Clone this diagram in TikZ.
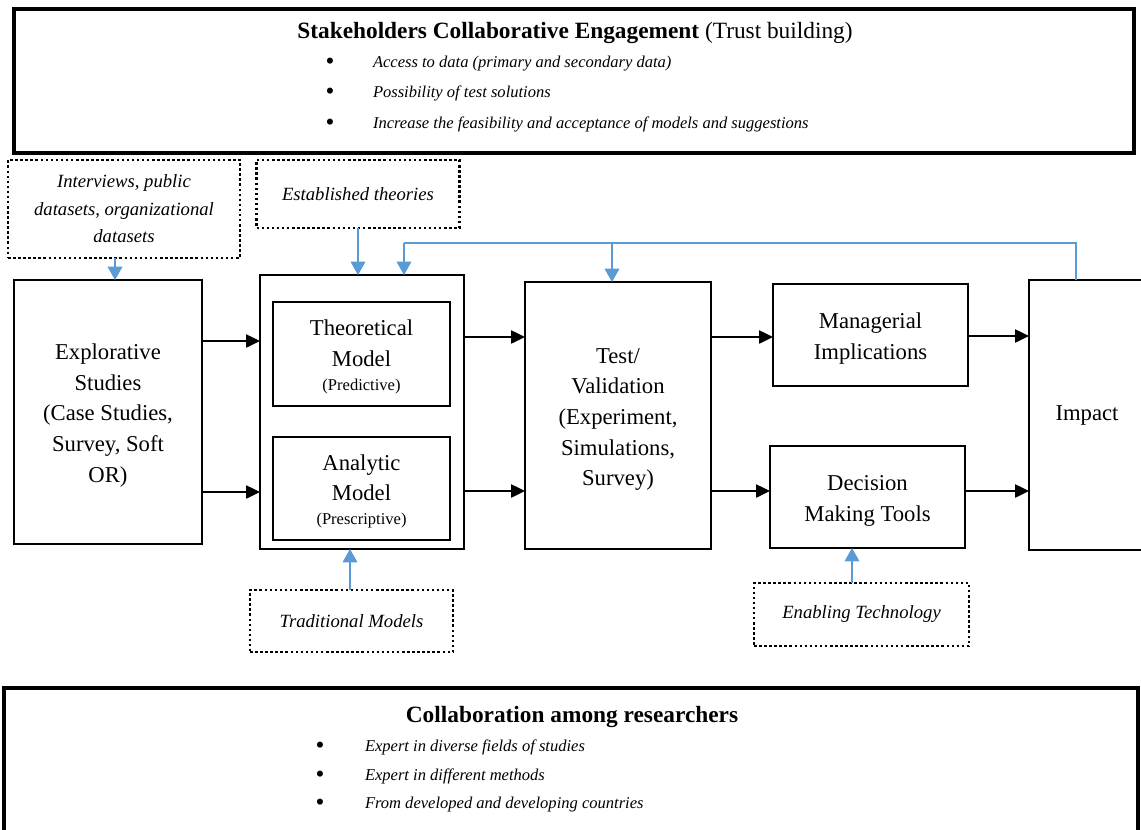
\documentclass[tikz,border=0pt]{standalone}
\usepackage{fontspec}
\setmainfont{Liberation Serif}
\usetikzlibrary{arrows.meta}
\definecolor{blueA}{RGB}{91,155,213}
\begin{document}
\begin{tikzpicture}[x=0.75pt,y=-0.75pt,
  every node/.style={inner sep=0pt, outer sep=0pt},
  sz/.style 2 args={minimum width=#1*0.75pt, minimum height=#2*0.75pt},
  box/.style={draw, line width=2.2pt, align=center, font=\fontsize{17}{23}\selectfont},
  bigbox/.style={draw, line width=2.4pt},
  dotbox/.style={draw, line width=1.9pt, dash pattern=on 1.9pt off 1.9pt, align=center, font=\fontsize{14}{20.6}\selectfont\itshape},
  arr/.style={line width=1pt, -{Triangle[length=10.5pt,width=10pt]}},
  barr/.style={blueA, line width=1.1pt, -{Triangle[length=10pt,width=11pt]}},
  bline/.style={blueA, line width=1.1pt},
  bul/.style={font=\fontsize{19}{19}\selectfont},
  btxt/.style={anchor=base west, font=\fontsize{12.4}{14}\selectfont\itshape},
  ttl/.style={font=\fontsize{17.5}{20}\selectfont}
]
\useasboundingbox (0,0) rectangle (1141,829);
\fill[white] (0,0) rectangle (1141,829);
\clip (0,0) rectangle (1141,829);

% top box
\node[bigbox, sz={1120}{144}] (top) at (574,81) {};
\node[ttl] (toptitle) at (575,33) {\textbf{Stakeholders Collaborative Engagement} (Trust building)};
\node[bul] (tb1) at (330,64) {\textbullet};
\node[bul] (tb2) at (330,94) {\textbullet};
\node[bul] (tb3) at (330,125) {\textbullet};
\node[btxt] (tt1) at (373,67) {Access to data (primary and secondary data)};
\node[btxt] (tt2) at (373,97) {Possibility of test solutions};
\node[btxt] (tt3) at (373,128) {Increase the feasibility and acceptance of models and suggestions};

% dotted input boxes
\node[dotbox, sz={232}{98}] (ldot) at (124,209) {Interviews, public\\datasets, organizational\\datasets};
\node[dotbox, sz={203}{68}] (etheo) at (358,194) {Established theories};
\node[dotbox, sz={203}{62}] (trad) at (351.5,621) {Traditional Models};
\node[dotbox, sz={215}{63}] (enab) at (861.5,614.5) {Enabling Technology};

% main boxes
\node[box, sz={188}{264}] (expl) at (108,412) {\rule{0pt}{17pt}Explorative\\Studies\\(Case Studies,\\Survey, Soft\\OR)};
\node[box, sz={204}{274}] (mod) at (362,412) {};
\node[box, sz={177}{104}] (theo) at (361.5,354) {\rule{0pt}{16pt}Theoretical\\Model\\[-5pt]{\fontsize{12.4}{14}\selectfont (Predictive)}};
\node[box, sz={177}{103}] (ana) at (361.5,488.5) {\rule{0pt}{16pt}Analytic\\Model\\[-5pt]{\fontsize{12.4}{14}\selectfont (Prescriptive)}};
\node[box, sz={186}{267}] (test) at (618,415.5) {\rule{0pt}{17pt}Test/\\Validation\\(Experiment,\\Simulations,\\Survey)};
\node[box, sz={195}{102}] (mgr) at (870.5,335) {\rule{0pt}{17pt}Managerial\\Implications};
\node[box, sz={195}{102}] (dec) at (867.5,497) {\rule{0pt}{17pt}Decision\\Making Tools};
\node[box, sz={116}{270}] (impact) at (1087,415) {Impact};

% bottom box
\node[bigbox, sz={1134}{160}] (bot) at (571,768) {};
\node[ttl] (bottitle) at (572,717) {\textbf{Collaboration among researchers}};
\node[bul] (bb1) at (320,748) {\textbullet};
\node[bul] (bb2) at (320,777) {\textbullet};
\node[bul] (bb3) at (320,805) {\textbullet};
\node[btxt] (bt1) at (365,751) {Expert in diverse fields of studies};
\node[btxt] (bt2) at (365,780) {Expert in different methods};
\node[btxt] (bt3) at (365,808) {From developed and developing countries};

% helper coordinates
\coordinate (rA) at (0,341);
\coordinate (rB) at (0,492);
\coordinate (rC) at (0,337);
\coordinate (rD) at (0,491);
\coordinate (rE) at (0,336);
\coordinate (cX) at (115,0);
\coordinate (cT) at (350,0);
\coordinate (cE) at (852,0);
\coordinate (fbR) at (1076,243);
\coordinate (fbM) at (612,243);
\coordinate (fbL) at (404,243);

% black arrows
\draw[arr] (expl.east |- rA) -- (mod.west |- rA);
\draw[arr] (expl.east |- rB) -- (mod.west |- rB);
\draw[arr] (mod.east |- rC) -- (test.west |- rC);
\draw[arr] (mod.east |- rD) -- (test.west |- rD);
\draw[arr] (test.east |- rC) -- (mgr.west |- rC);
\draw[arr] (test.east |- rD) -- (dec.west |- rD);
\draw[arr] (mgr.east |- rE) -- (impact.west |- rE);
\draw[arr] (dec.east |- rD) -- (impact.west |- rD);

% blue arrows
\draw[barr] (ldot.south -| cX) -- (expl.north -| cX);
\draw[barr] (etheo.south) -- (mod.north -| etheo.south);
\draw[barr] (trad.north -| cT) -- (mod.south -| cT);
\draw[barr] (enab.north -| cE) -- (dec.south -| cE);
\draw[bline] (impact.north -| fbR) -- (fbR) -- (fbL);
\draw[barr] (fbL) -- (mod.north -| fbL);
\draw[barr] (fbM) -- (test.north -| fbM);
\end{tikzpicture}
\end{document}
